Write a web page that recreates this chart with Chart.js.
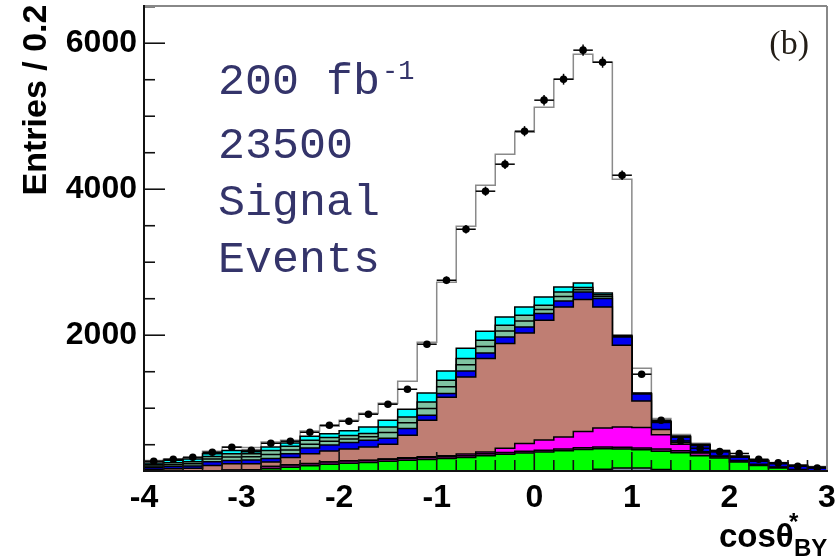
<!DOCTYPE html>
<html>
<head>
<meta charset="utf-8">
<script src="https://cdn.jsdelivr.net/npm/chart.js@4.4.1/dist/chart.umd.min.js"></script>
<style>
  html, body { margin: 0; padding: 0; background: #fff; }
  canvas { display: block; }
</style>
</head>
<body>
<canvas id="grafica" width="836" height="557"></canvas>
<script>
// cos(theta*_BY): 35 bins of 0.2 between -4 and 3
const xLow = -4, xHigh = 3, binWidth = 0.2;
const xTicks = [-4, -3, -2, -1, 0, 1, 2, 3];
const yTicks = [2000, 4000, 6000];

// stacked MC components, bottom to top (entries / bin)
const bkgGray   = [40,45,50,55,60,65,70,75,80,85,90,92,95,97,100,102,105,108,110,112,115,120,135,165,180,180,160,120,100,90,80,70,60,50,40];
const bkgGreen  = [70,67,65,65,65,65,102,117,132,147,156,166,177,190,198,209,220,242,258,274,286,298,301,280,260,250,252,270,250,228,182,145,120,100,90];
const bkgPurple = [15,16,17,20,25,25,28,30,28,30,30,27,28,28,27,25,25,25,24,24,24,24,24,25,26,26,28,28,35,18,14,11,8,6,4];
const bkgMagenta= [2,2,2,2,2,2,3,3,3,3,3,3,4,5,10,14,22,25,58,106,140,165,220,258,278,279,195,87,10,4,4,2,2,2,2];
const bkgBrown  = [38,42,44,73,88,83,59,100,132,150,161,182,203,310,501,800,1057,1281,1436,1516,1640,1781,1809,1660,1119,365,75,25,10,5,4,2,2,2,2];
const bkgBlue   = [25,28,32,53,45,52,48,53,80,80,90,92,83,92,68,51,82,77,91,82,92,82,104,115,114,95,95,73,85,60,46,45,46,45,42];
const bkgAqLow  = [19,26,29,36,47,42,56,50,53,53,49,46,77,80,91,92,85,87,80,80,57,61,30,26,7,4,5,5,4,4,4,4,4,4,4];
const bkgAqHigh = [19,26,29,36,46,41,56,50,52,52,49,45,77,79,91,91,85,87,80,80,57,62,30,26,6,4,5,4,4,3,3,3,3,3,4];
const bkgCyan   = [22,35,37,38,44,27,48,47,56,50,62,91,92,105,124,127,141,123,114,114,114,69,64,25,10,7,11,8,7,7,6,6,6,7,8];
const signal    = [35,18,17,34,46,60,66,37,72,102,146,186,232,384,694,1215,1671,2000,2229,2393,2599,2845,3133,3160,2137,338,34,20,15,9,7,6,5,5,4];
// pseudo-data
const observed  = [274,301,329,397,466,425,520,548,671,767,822,918,1055,1260,1877,2753,3452,3973,4343,4795,5220,5507,5905,5740,4192,1466,836,552,452,405,380,301,251,205,182];

const nBins = observed.length;
const edges = [];
for (let i = 0; i <= nBins; i++) edges.push(+(xLow + i * binWidth).toFixed(1));
const centres = edges.slice(0, -1).map(e => +(e + binWidth / 2).toFixed(2));

// step histogram: one point per low edge, last value repeated at the high edge
const steps = vals => edges.map((x, i) => ({ x, y: vals[Math.min(i, vals.length - 1)] }));

function layer(vals, fillColor, first) {
  return {
    data: steps(vals),
    backgroundColor: fillColor,
    borderColor: '#000',
    borderWidth: 1.5,
    fill: first ? 'origin' : '-1',
    stepped: true,
    pointRadius: 0,
    stack: 'mc'
  };
}

const datasets = [
  layer(bkgGray, '#8292a2', true),
  layer(bkgGreen, '#00ff00'),
  layer(bkgPurple, '#991a99'),
  layer(bkgMagenta, '#ff00ff'),
  layer(bkgBrown, '#bf7e73'),
  layer(bkgBlue, '#0000f0'),
  layer(bkgAqLow, '#7fc3a2'),
  layer(bkgAqHigh, '#7fc3a2'),
  layer(bkgCyan, '#00ffff'),
  Object.assign(layer(signal, '#ffffff'), { borderColor: '#8a8a8a' }),
  {
    data: centres.map((x, i) => ({ x, y: observed[i] })),
    showLine: false,
    pointRadius: 3.8,
    pointBackgroundColor: '#000',
    pointBorderWidth: 0,
    stack: 'obs',
    order: -1
  }
];

const tickFont = { family: '"Liberation Sans", Arial, sans-serif', size: 32, weight: 'bold' };

// error bars, inner ticks, frame and the labels
const decor = {
  id: 'decor',
  afterDatasetsDraw(chart) {
    const { ctx, chartArea: a, scales: { x, y } } = chart;
    const seg = (x1, y1, x2, y2) => { ctx.beginPath(); ctx.moveTo(x1, y1); ctx.lineTo(x2, y2); ctx.stroke(); };
    ctx.save();
    ctx.beginPath();
    ctx.rect(a.left, a.top, a.right - a.left, a.bottom - a.top);
    ctx.clip();
    ctx.strokeStyle = '#000';
    ctx.lineWidth = 1.5;
    observed.forEach((n, i) => {
      const px = x.getPixelForValue(centres[i]);
      const py = y.getPixelForValue(n);
      seg(x.getPixelForValue(centres[i] - binWidth / 2), py, x.getPixelForValue(centres[i] + binWidth / 2), py);
      const e = Math.sqrt(n);
      seg(px, y.getPixelForValue(n - e), px, y.getPixelForValue(n + e));
    });
    ctx.restore();

    ctx.save();
    ctx.strokeStyle = '#111';
    ctx.lineWidth = 1.6;
    for (let v = 500; v <= y.max; v += 500) {
      const py = y.getPixelForValue(v);
      seg(a.left, py, a.left + (v % 2000 === 0 ? 21 : 11), py);
    }
    for (let i = 0; i <= nBins; i++) {
      const v = edges[i];
      const px = x.getPixelForValue(v);
      seg(px, a.bottom, px, a.bottom - (Number.isInteger(v) ? 19 : 11));
    }
    // frame
    ctx.lineWidth = 2;
    ctx.strokeStyle = '#888';
    seg(a.left, a.top, a.right, a.top);
    seg(a.right, a.top, a.right, a.bottom);
    ctx.strokeStyle = '#111';
    seg(a.left, a.top - 1, a.left, a.bottom + 1);
    seg(a.left - 1, a.bottom, a.right + 1, a.bottom);
    ctx.restore();
  },
  afterDraw(chart) {
    const { ctx } = chart;
    ctx.save();
    // luminosity / event count block
    ctx.fillStyle = '#34346a';
    ctx.textAlign = 'left';
    ctx.textBaseline = 'alphabetic';
    ctx.font = '45px "Liberation Mono", monospace';
    ctx.fillText('200 fb', 218, 94);
    const w = ctx.measureText('200 fb').width;
    ctx.font = '27px "Liberation Mono", monospace';
    ctx.fillText('-1', 218 + w + 2, 79);
    ctx.font = '45px "Liberation Mono", monospace';
    ctx.fillText('23500', 218, 158);
    ctx.fillText('Signal', 218, 215);
    ctx.fillText('Events', 218, 272);

    ctx.fillStyle = '#231d16';
    ctx.textAlign = 'right';
    ctx.font = '34px "Liberation Serif", serif';
    ctx.fillText('(b)', 809, 54);

    // axis titles
    ctx.fillStyle = '#000';
    ctx.font = 'bold 34px "Liberation Sans", Arial, sans-serif';
    ctx.save();
    ctx.translate(46, 100);
    ctx.rotate(-Math.PI / 2);
    ctx.textAlign = 'center';
    ctx.fillText('Entries / 0.2', 0, 0);
    ctx.restore();

    ctx.textAlign = 'left';
    ctx.font = 'bold 33px "Liberation Sans", Arial, sans-serif';
    ctx.fillText('cosθ', 719, 547);
    ctx.font = 'bold 24px "Liberation Sans", Arial, sans-serif';
    ctx.fillText('*', 789, 530);
    ctx.fillText('BY', 794, 556);
    ctx.restore();
  }
};

new Chart(document.getElementById('grafica'), {
  type: 'line',
  data: { datasets },
  plugins: [decor],
  options: {
    responsive: false,
    animation: false,
    layout: { padding: { left: 0, right: 9, top: 6, bottom: 0 } },
    plugins: { legend: { display: false }, tooltip: { enabled: false } },
    scales: {
      x: {
        type: 'linear',
        min: xLow,
        max: xHigh,
        afterBuildTicks: s => { s.ticks = xTicks.map(v => ({ value: v })); },
        afterFit: s => { s.height = 86; s.paddingLeft = 0; s.paddingRight = 0; },
        grid: { display: false, drawTicks: false },
        border: { display: false },
        ticks: { color: '#000', font: tickFont, padding: 8, maxRotation: 0, callback: v => String(v) }
      },
      y: {
        stacked: true,
        min: 140,
        max: 6510,
        afterBuildTicks: s => { s.ticks = yTicks.map(v => ({ value: v })); },
        afterFit: s => { s.width = 144; s.paddingTop = 0; s.paddingBottom = 0; },
        grid: { display: false, drawTicks: false },
        border: { display: false },
        ticks: { color: '#000', font: tickFont, padding: 7, callback: v => String(v) }
      }
    }
  }
});
</script>
</body>
</html>
